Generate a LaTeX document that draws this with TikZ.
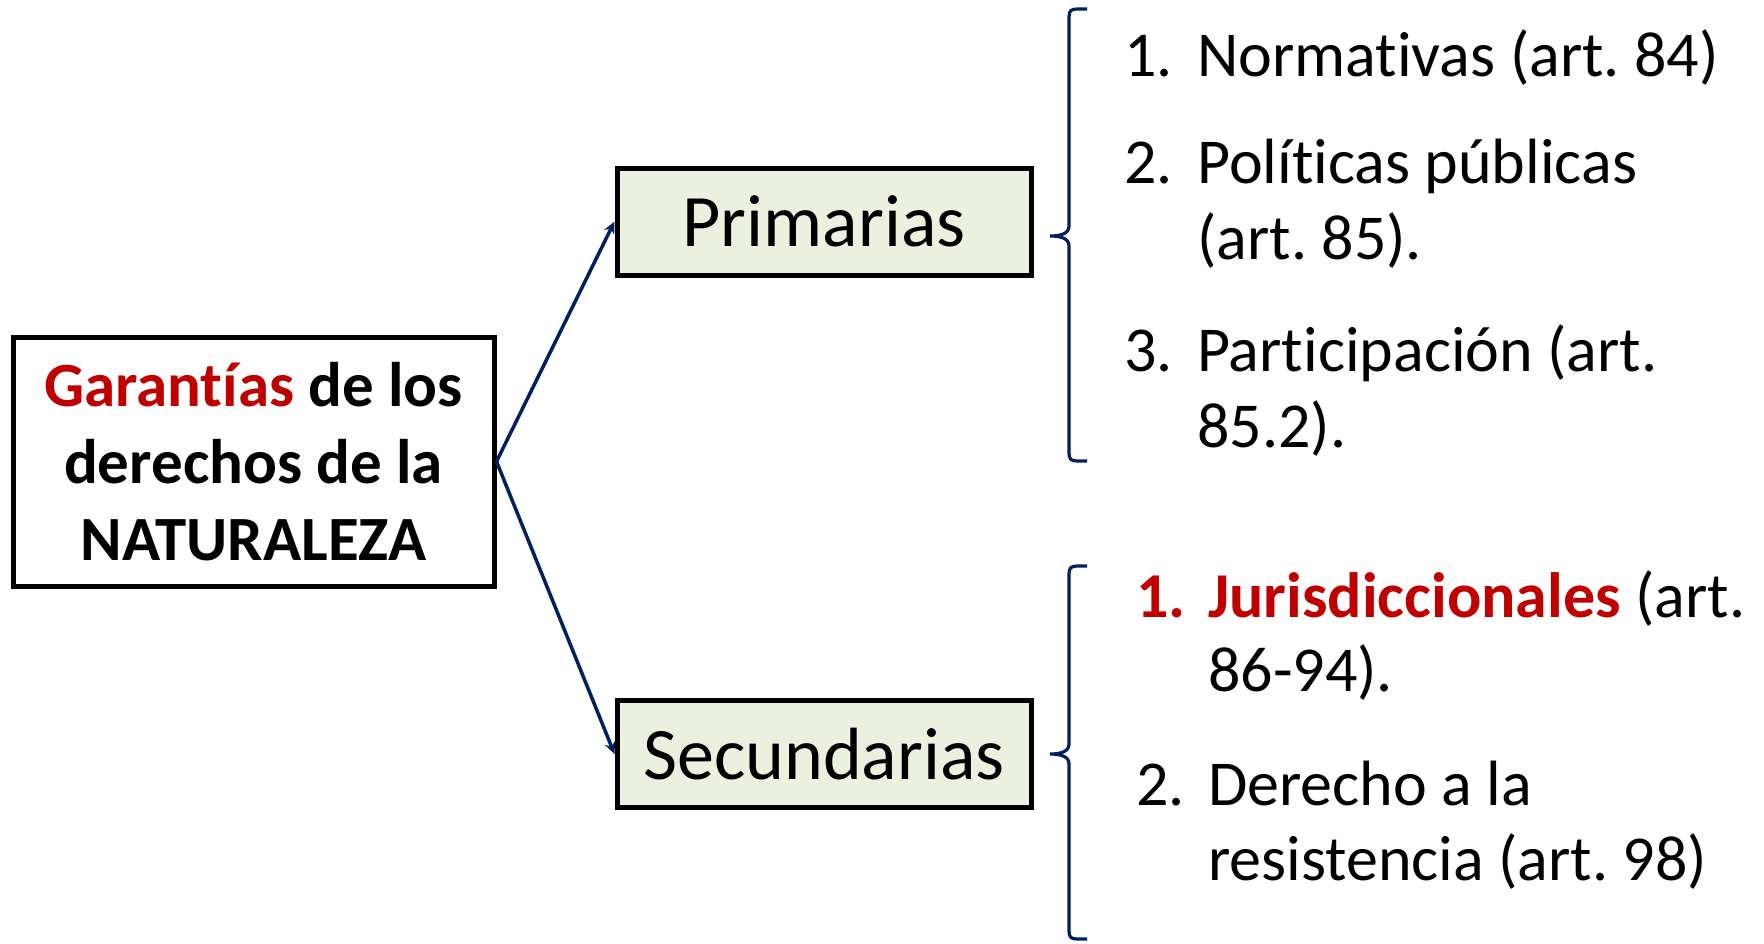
\documentclass[tikz,border=0pt]{standalone}
\usepackage{fontspec}
\setmainfont{Carlito}[Ligatures=NoCommon]
\usetikzlibrary{arrows.meta}
\definecolor{navy}{HTML}{002060}
\definecolor{darkred}{HTML}{C00000}
\definecolor{boxfill}{HTML}{EBF1DE}
\frenchspacing
\newcommand{\nolig}{\kern0pt }
\tikzset{
  mainbox/.style={draw=black, line width=5pt, fill=white, minimum width=481pt, minimum height=249pt, align=center, inner sep=0pt, font=\fontsize{63}{77}\selectfont\bfseries},
  catbox/.style={draw=black, line width=5pt, fill=boxfill, minimum width=414pt, minimum height=107pt, inner sep=0pt, font=\fontsize{74}{80}\selectfont},
  conn/.style={draw=navy, line width=3.5pt, -{Stealth[length=12pt,width=11pt]}},
  bracepath/.style={draw=navy, line width=3.2pt},
  itemtxt/.style={anchor=base west, inner sep=0pt, font=\fontsize{64}{76}\selectfont},
}
\begin{document}
\begin{tikzpicture}[x=1pt,y=-1pt]
\useasboundingbox[fill=white] (0,0) rectangle (1764,943);

\node[mainbox] (main) at (253.5,461.5) {{\color{darkred}Garant\nolig ías} de los\\derechos de la\\NATURALEZA};
\node[catbox] (prim) at (824,221.5) {Primarias};
\node[catbox] (sec) at (824,754) {Secundarias};

\draw[conn] (main.east) -- (prim.west);
\draw[conn] (main.east) -- (sec.west);

% brace 1
\coordinate (b1t) at (1087,9);
\coordinate (b1m) at (1050,236);
\coordinate (b1b) at (1087,461);
\draw[bracepath] (b1t) -- (1077,9) .. controls (1071,9) and (1069,11) .. (1069,17)
  -- (1069,226) .. controls (1069,233) and (1062,236) .. (b1m)
  .. controls (1062,236) and (1069,239) .. (1069,246)
  -- (1069,453) .. controls (1069,459) and (1071,461) .. (1077,461) -- (b1b);
% brace 2
\coordinate (b2t) at (1087,566);
\coordinate (b2m) at (1050,754);
\coordinate (b2b) at (1087,939);
\draw[bracepath] (b2t) -- (1077,566) .. controls (1071,566) and (1069,568) .. (1069,574)
  -- (1069,744) .. controls (1069,751) and (1062,754) .. (b2m)
  .. controls (1062,754) and (1069,757) .. (1069,764)
  -- (1069,931) .. controls (1069,937) and (1071,939) .. (1077,939) -- (b2b);

% list 1
\node[itemtxt] (n1) at (1124,76) {1.};
\node[itemtxt] (t1) at (1197,76) {Normat\nolig ivas (art. 84)};
\node[itemtxt] (n2) at (1124,183) {2.};
\node[itemtxt] (t2a) at (1197,183) {Polít\nolig icas públicas};
\node[itemtxt] (t2b) at (1197,259) {(art. 85).};
\node[itemtxt] (n3) at (1124,371) {3.};
\node[itemtxt] (t3a) at (1197,371) {Part\nolig icipación (art.};
\node[itemtxt] (t3b) at (1197,447) {85.2).};

% list 2
\node[itemtxt, text=darkred, font=\fontsize{64}{76}\selectfont\bfseries] (m1) at (1136,617) {1.};
\node[itemtxt] (s1a) at (1208,617) {{\bfseries\color{darkred}Jurisdiccionales} (art.};
\node[itemtxt] (s1b) at (1208,691) {86-94).};
\node[itemtxt] (m2) at (1136,805) {2.};
\node[itemtxt] (s2a) at (1208,805) {Derecho a la};
\node[itemtxt] (s2b) at (1208,880) {resistencia (art. 98)};
\end{tikzpicture}
\end{document}
